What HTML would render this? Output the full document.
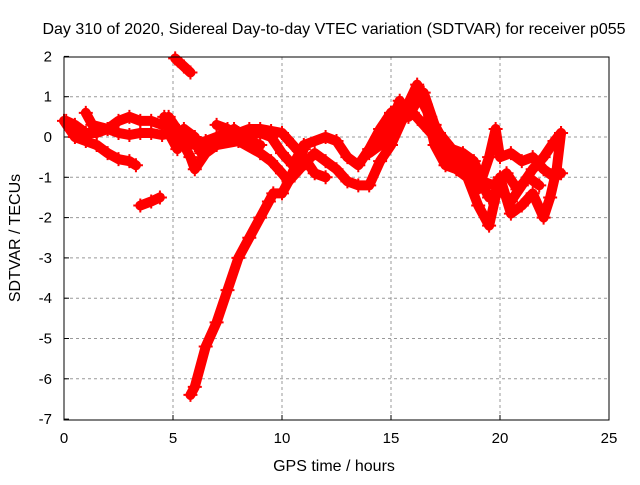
<!DOCTYPE html>
<html><head><meta charset="utf-8"><style>
body{margin:0;background:#fff}
svg text{font-family:"Liberation Sans",sans-serif;font-size:15px;fill:#000}
svg text.big{font-size:16px}
</style></head><body>
<svg width="640" height="480" id="c">
<text class="big" x="334" y="34" text-anchor="middle">Day 310 of 2020, Sidereal Day-to-day VTEC variation (SDTVAR) for receiver p055</text>
<text class="big" x="334" y="471" text-anchor="middle">GPS time / hours</text>
<text class="big" x="20" y="238" text-anchor="middle" transform="rotate(-90 20 238)">SDTVAR / TECUs</text>
<g id="grid"></g>
<g id="ticks"></g>
<g id="series"></g>
<rect x="64" y="57" width="545" height="363" fill="none" stroke="#000" stroke-width="1"/>
</svg>
<script>
const xTicks=[0,5,10,15,20,25];
const yTicks=[-7,-6,-5,-4,-3,-2,-1,0,1,2];
const trackA=[[0,0.4],[0.5,0],[1,-0.1],[1.5,-0.2],[2,-0.4],[2.5,-0.55],[3,-0.6],[3.3,-0.7]];
const trackB=[[0.1,0.4],[0.5,0.3],[1,0.1],[1.5,0.1],[2,0.2],[2.5,0.1],[3,0.05],[3.5,0.1],[4,0.1],[4.5,0.05],[5,0.1]];
const trackC=[[1,0.6],[1.3,0.3],[2,0.2],[2.5,0.4],[3,0.5],[3.5,0.4],[4,0.4],[4.5,0.3]];
const trackD=[[3.5,-1.7],[4,-1.6],[4.4,-1.5]];
const trackE=[[5.1,1.95],[5.5,1.75],[5.8,1.6]];
const trackF=[[5.8,-6.4],[6,-6.2],[6.5,-5.2],[7,-4.6],[7.5,-3.8],[8,-3],[8.5,-2.5],[9,-2],[9.4,-1.6],[9.6,-1.4],[10,-1.4],[10.3,-1.1],[10.8,-0.5],[11,-0.3]];
const trackG=[[4.8,0.5],[5.3,0.1],[5.5,-0.1],[6,-0.2],[6.5,-0.1],[7,0],[7.5,0.1],[8,0.1],[8.5,0.2],[9,0.2],[9.5,0.15],[10,0.1],[10.5,-0.2],[11,-0.5],[11.5,-0.9],[12,-1.0]];
const trackH=[[5,0.3],[5.8,-0.5],[6,-0.8],[6.5,-0.4],[7,-0.2],[8,-0.1],[9,-0.4],[9.5,-0.6],[10,-0.9],[10.3,-1.1],[10.8,-0.8],[11.5,-0.4],[12,-0.6],[12.5,-0.8],[13,-1.1],[13.5,-1.2],[14,-1.2],[14.5,-0.6],[15,-0.2],[15.5,0.4],[16,0.8],[16.5,1.1],[17,0.3],[17.5,-0.2],[18,-0.5],[18.5,-0.7],[19,-1.0],[19.5,-1.5],[20,-1.3],[20.5,-1.6],[21,-1.2],[21.5,-0.8],[22,-0.5],[22.5,-0.1],[22.8,0.1]];
const trackI=[[7,0.3],[7.5,0.2],[8,0],[9,0.1],[9.5,0],[10,-0.4],[10.5,-0.7],[11,-0.2],[12,0],[12.5,-0.1],[13,-0.5],[13.5,-0.7],[14,-0.3],[14.5,0.2],[15,0.6],[15.5,0.8],[16,0.6],[16.5,0.3],[17,0],[17.5,-0.4],[18,-0.6],[18.5,-0.9],[19,-1.3],[19.5,-0.5],[19.8,0.2],[20,-0.5],[20.5,-0.4],[21,-0.6],[21.5,-0.5],[22,-0.8],[22.5,-1.0],[22.8,-0.9]];
const trackJ=[[14,-0.4],[15,0],[15.5,0.5],[16.2,1.3],[16.6,0.8],[17,-0.2],[17.5,-0.7],[18,-0.8],[18.5,-1],[19,-1.7],[19.5,-2.2],[20,-1],[20.5,-1.9],[21,-1.7],[21.5,-1.4],[22,-2.0],[22.3,-1.5],[22.6,-0.8],[22.8,0.1]];
const trackK=[[14.6,-0.1],[15,0.3],[15.4,0.9],[15.8,0.5],[16.3,1.0],[16.8,0.5],[17.2,0.1],[17.8,-0.3],[18.3,-0.4],[18.8,-0.6],[19.2,-1.1],[19.7,-1.2],[20.3,-0.9],[20.8,-1.3],[21.3,-1.0],[21.8,-1.2]];
const trackL=[[4.6,0.5],[4.9,0],[5.2,-0.3],[5.5,0.2],[6,0],[6.3,-0.4],[7,-0.1],[7.8,0.2],[8.5,-0.1],[9,-0.2]];
const tracks=[trackA,trackB,trackC,trackD,trackE,trackF,trackG,trackH,trackI,trackJ,trackK,trackL];
const X=t=>64+t*21.8, Y=v=>137-v*40.3;
const NS='http://www.w3.org/2000/svg';
const mk=(tag,at,par)=>{const e=document.createElementNS(NS,tag);for(const k in at)e.setAttribute(k,at[k]);par.appendChild(e);return e;};
const grid=document.getElementById('grid'),ticks=document.getElementById('ticks'),ser=document.getElementById('series');
xTicks.forEach(t=>{
 if(t>0&&t<25){const l=mk('line',{x1:X(t),x2:X(t),y1:57,y2:420,stroke:'#999','stroke-dasharray':'3,3'},grid);
 
 }
 const tx=mk('text',{x:X(t),y:443,'text-anchor':'middle'},ticks);tx.textContent=t;
 
 
 mk('line',{x1:X(t),x2:X(t),y1:420,y2:415,stroke:'#000'},ticks);
});
yTicks.forEach(v=>{
 if(v>-7&&v<2){const l=mk('line',{x1:64,x2:609,y1:Y(v),y2:Y(v),stroke:'#999','stroke-dasharray':'3,3'},grid);
 
 }
 const tx=mk('text',{x:52,y:Y(v)+5,'text-anchor':'end'},ticks);tx.textContent=v;
 
 
 mk('line',{x1:64,x2:69,y1:Y(v),y2:Y(v),stroke:'#000'},ticks);
});
tracks.forEach(tr=>{
 const p=mk('polyline',{points:tr.map(d=>X(d[0])+','+Y(d[1])).join(' '),fill:'none',stroke:'#f00','stroke-width':10,'stroke-linejoin':'round','stroke-linecap':'round'},ser);
 
 
 tr.forEach(d=>{
  const m=mk('path',{d:`M${X(d[0])-7},${Y(d[1])}h14M${X(d[0])},${Y(d[1])-7}v14`,stroke:'#f00','stroke-width':2},ser);
  
  
 });
});
</script>
</body></html>
